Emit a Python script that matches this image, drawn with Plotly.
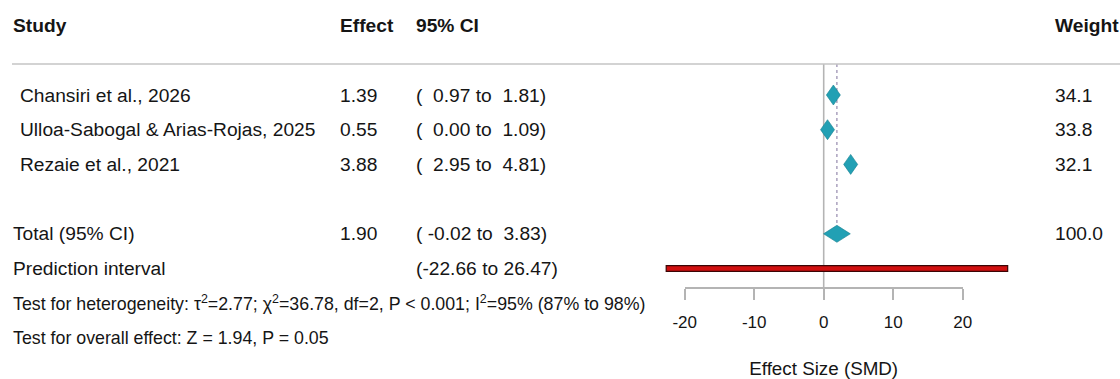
import plotly.graph_objects as go

# ---- study-level data ----
studies = ["Chansiri et al., 2026", "Ulloa-Sabogal & Arias-Rojas, 2025", "Rezaie et al., 2021"]
effects = [1.39, 0.55, 3.88]
ci_low = [0.97, 0.00, 2.95]
ci_high = [1.81, 1.09, 4.81]
weights = [34.1, 33.8, 32.1]

# ---- pooled estimate and prediction interval ----
pooled_effect = 1.90
pooled_low = -0.02
pooled_high = 3.83
pooled_weight = 100.0
pi_low = -22.66
pi_high = 26.47

# ---- heterogeneity / overall effect statistics ----
tau2 = 2.77
chi2 = 36.78
het_df = 2
het_p = "< 0.001"
i2 = 95
i2_low = 87
i2_high = 98
z_value = 1.94
p_overall = 0.05

tick_values = [-20, -10, 0, 10, 20]
tick_labels = ["-20", "-10", "0", "10", "20"]
axis_title = "Effect Size (SMD)"

# ---- layout geometry ----
W, H = 1120, 379
AX_L, AX_R = 684.7, 962.7            # pixel span of the effect axis
AX_Y = 287.3                         # pixel row of the effect axis line
ROW0, ROW_H = 95.0, 34.7             # first study row and row pitch (px)
ppu = (AX_R - AX_L) / (tick_values[-1] - tick_values[0])
x_range = [tick_values[0] - AX_L / ppu, tick_values[0] + (W - AX_L) / ppu]
y_range = [(H - ROW0) / ROW_H, -ROW0 / ROW_H]

study_rows = [0, 1, 2]
total_row = 4
pi_row = 5
het_row = 6
overall_row = 7
header_row = (25 - ROW0) / ROW_H
rule_row = (64 - ROW0) / ROW_H

FONT = "Liberation Sans, Arial, sans-serif"
TXT = "#151515"
TEAL = "#22a0b4"
TEAL_EDGE = "#16808f"
GREY = "#b4b4b4"
MAIN_SIZE = 19.2
NOTE_SIZE = 17.8

COL_STUDY, COL_EFFECT, COL_CI, COL_WEIGHT = 11, 338, 414, 1053


def nb(s):
    return s.replace(" ", "\u00a0")


def ci_text(lo, hi):
    return nb(f"({lo:>6.2f} to {hi:>5.2f})")


fig = go.Figure()

# study confidence intervals (under the markers)
for r, lo, hi in zip(study_rows, ci_low, ci_high):
    fig.add_trace(go.Scatter(x=[lo, hi], y=[r, r], mode="lines",
                             line=dict(color=TEAL_EDGE, width=1.5),
                             hoverinfo="skip", showlegend=False))

# study diamonds
hw = 7.0 / ppu
hh = 10.0 / ROW_H
for r, e in zip(study_rows, effects):
    fig.add_trace(go.Scatter(
        x=[e - hw, e, e + hw, e, e - hw], y=[r, r - hh, r, r + hh, r],
        mode="lines", fill="toself", fillcolor=TEAL,
        line=dict(color=TEAL_EDGE, width=0.6),
        hoverinfo="skip", showlegend=False))

# pooled diamond spanning its confidence interval
thh = 8.5 / ROW_H
fig.add_trace(go.Scatter(
    x=[pooled_low, pooled_effect, pooled_high, pooled_effect, pooled_low],
    y=[total_row, total_row - thh, total_row, total_row + thh, total_row],
    mode="lines", fill="toself", fillcolor=TEAL,
    line=dict(color=TEAL_EDGE, width=0.6),
    hoverinfo="skip", showlegend=False))

shapes = []
# header rule
shapes.append(dict(type="line", xref="paper", yref="y", x0=12 / W, x1=1,
                   y0=rule_row, y1=rule_row, line=dict(color="#c4c4c4", width=1.6)))
# line of no effect, down to the effect axis
shapes.append(dict(type="line", xref="x", yref="paper", x0=0, x1=0,
                   y0=1 - AX_Y / H, y1=1 - 64 / H, line=dict(color=GREY, width=1.6),
                   layer="below"))
# pooled effect reference line
shapes.append(dict(type="line", xref="x", yref="y", x0=pooled_effect, x1=pooled_effect,
                   y0=rule_row, y1=total_row - thh,
                   line=dict(color="#8b7fa6", width=1.1, dash="dot"), layer="below"))
# prediction interval bar
pih = 2.8 / ROW_H
shapes.append(dict(type="rect", xref="x", yref="y", x0=pi_low, x1=pi_high,
                   y0=pi_row - pih, y1=pi_row + pih,
                   fillcolor="#d10f0f", line=dict(color="#3b0505", width=1.2)))

annotations = []


def add_text(x_px, row, text, bold=False, size=MAIN_SIZE):
    annotations.append(dict(
        x=x_px / W, xref="paper", y=row, yref="y", xanchor="left", yanchor="middle",
        text=f"<b>{text}</b>" if bold else text, showarrow=False,
        font=dict(family=FONT, size=size, color=TXT)))


# column headers
add_text(COL_STUDY, header_row, "Study", bold=True)
add_text(COL_EFFECT, header_row, "Effect", bold=True)
add_text(COL_CI, header_row, "95% CI", bold=True)
add_text(COL_WEIGHT, header_row, "Weight", bold=True)

# study rows
for r, s, e, lo, hi, w in zip(study_rows, studies, effects, ci_low, ci_high, weights):
    add_text(18, r, s)
    add_text(COL_EFFECT, r, f"{e:.2f}")
    add_text(COL_CI, r, ci_text(lo, hi))
    add_text(COL_WEIGHT, r, f"{w:.1f}")

# pooled rows
add_text(COL_STUDY, total_row, "Total (95% CI)")
add_text(COL_EFFECT, total_row, f"{pooled_effect:.2f}")
add_text(COL_CI, total_row, ci_text(pooled_low, pooled_high))
add_text(COL_WEIGHT, total_row, f"{pooled_weight:.1f}")
add_text(COL_STUDY, pi_row, "Prediction interval")
add_text(COL_CI, pi_row, nb(f"({pi_low:.2f} to {pi_high:.2f})"))

add_text(COL_STUDY, het_row,
         f"Test for heterogeneity: \u03c4<sup>2</sup>={tau2:.2f}; \u03c7<sup>2</sup>={chi2:.2f}, "
         f"df={het_df}, P {het_p}; I<sup>2</sup>={i2}% ({i2_low}% to {i2_high}%)",
         size=NOTE_SIZE)
add_text(COL_STUDY, overall_row,
         f"Test for overall effect: Z = {z_value:.2f}, P = {p_overall:.2f}", size=NOTE_SIZE)

fig.update_layout(
    width=W, height=H, margin=dict(l=0, r=0, t=0, b=0, autoexpand=False),
    paper_bgcolor="white", plot_bgcolor="rgba(0,0,0,0)",
    showlegend=False, shapes=shapes, annotations=annotations,
    xaxis=dict(domain=[0, 1], range=x_range, visible=False, fixedrange=True,
               automargin=False),
    yaxis=dict(domain=[0, 1], range=y_range, visible=False, fixedrange=True,
               automargin=False),
    xaxis2=dict(domain=[AX_L / W, AX_R / W], range=[tick_values[0], tick_values[-1]],
                anchor="y2", showline=True, linecolor=GREY, linewidth=2,
                ticks="outside", ticklen=11, tickwidth=2, tickcolor=GREY,
                tickvals=tick_values, ticktext=tick_labels, ticklabelstandoff=7,
                tickfont=dict(family=FONT, size=17, color=TXT),
                showgrid=False, zeroline=False, automargin=False, fixedrange=True,
                title=dict(text=axis_title, font=dict(family=FONT, size=18.8, color=TXT),
                           standoff=33)),
    yaxis2=dict(domain=[1 - AX_Y / H, 1 - AX_Y / H + 0.02], visible=False,
                range=[0, 1], fixedrange=True, automargin=False),
)

# invisible trace so the secondary axis pair is rendered
fig.add_trace(go.Scatter(x=[tick_values[0]], y=[0], xaxis="x2", yaxis="y2",
                         mode="markers", marker=dict(opacity=0), hoverinfo="skip",
                         showlegend=False))

fig.write_html("out.html")
